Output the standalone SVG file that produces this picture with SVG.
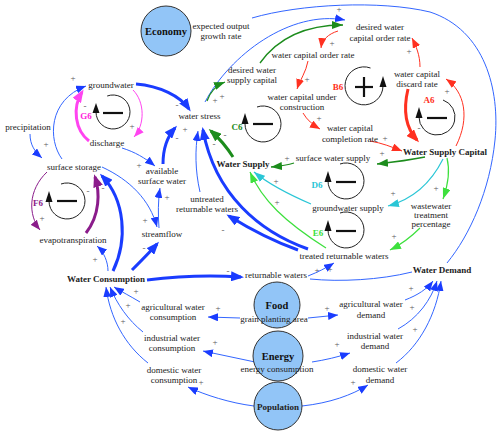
<svg xmlns="http://www.w3.org/2000/svg" width="500" height="435" viewBox="0 0 500 435">
<style>
text{font-family:"Liberation Serif","Times New Roman",serif;font-size:9px;fill:#222;text-anchor:middle}
.b{font-weight:bold}
.big{font-weight:bold;font-size:10.5px;fill:#111}
.pol{fill:#5a5a5a;font-size:9px}
.lbl{font-weight:bold;font-size:9px}
.c{fill:none}
.bt{stroke:#1a3cff;stroke-width:3}
.bn{stroke:#3366ff;stroke-width:1}
.rt{stroke:#ff3020;stroke-width:3}
.rn{stroke:#ff3020;stroke-width:1}
.gt{stroke:#1c8c1c;stroke-width:3}
.gn{stroke:#1c8c1c;stroke-width:1.3}
.ln{stroke:#3de03d;stroke-width:1.2}
.cn{stroke:#2ac6d6;stroke-width:1.2}
.mt{stroke:#ff44f0;stroke-width:3}
.mn{stroke:#ff44f0;stroke-width:1}
.pt{stroke:#8b1c8b;stroke-width:3}
.pn{stroke:#8b1c8b;stroke-width:1}
.circ{fill:#92c5f7;stroke:#333;stroke-width:1}
.loop{fill:none;stroke:#222;stroke-width:1}
.sgn{stroke:#111;stroke-width:2.2}
</style>
<defs>
<marker id="aBT" markerUnits="userSpaceOnUse" markerWidth="13" markerHeight="10" refX="10" refY="5" orient="auto"><path d="M0,0L13,5L0,10z" fill="#1a3cff"/></marker>
<marker id="aBN" markerUnits="userSpaceOnUse" markerWidth="10" markerHeight="8" refX="10" refY="4" orient="auto"><path d="M0,0L10,4L0,8z" fill="#1a3cff"/></marker>
<marker id="aRT" markerUnits="userSpaceOnUse" markerWidth="13" markerHeight="10" refX="10" refY="5" orient="auto"><path d="M0,0L13,5L0,10z" fill="#ff3020"/></marker>
<marker id="aRN" markerUnits="userSpaceOnUse" markerWidth="10" markerHeight="8" refX="10" refY="4" orient="auto"><path d="M0,0L10,4L0,8z" fill="#ff3020"/></marker>
<marker id="aGT" markerUnits="userSpaceOnUse" markerWidth="13" markerHeight="10" refX="10" refY="5" orient="auto"><path d="M0,0L13,5L0,10z" fill="#1c8c1c"/></marker>
<marker id="aGN" markerUnits="userSpaceOnUse" markerWidth="11" markerHeight="8" refX="11" refY="4" orient="auto"><path d="M0,0L11,4L0,8z" fill="#1c8c1c"/></marker>
<marker id="aLN" markerUnits="userSpaceOnUse" markerWidth="11" markerHeight="8" refX="11" refY="4" orient="auto"><path d="M0,0L11,4L0,8z" fill="#3de03d"/></marker>
<marker id="aCN" markerUnits="userSpaceOnUse" markerWidth="11" markerHeight="8" refX="11" refY="4" orient="auto"><path d="M0,0L11,4L0,8z" fill="#2ac6d6"/></marker>
<marker id="aMT" markerUnits="userSpaceOnUse" markerWidth="13" markerHeight="10" refX="10" refY="5" orient="auto"><path d="M0,0L13,5L0,10z" fill="#ff44f0"/></marker>
<marker id="aMN" markerUnits="userSpaceOnUse" markerWidth="10" markerHeight="8" refX="10" refY="4" orient="auto"><path d="M0,0L10,4L0,8z" fill="#ff44f0"/></marker>
<marker id="aPT" markerUnits="userSpaceOnUse" markerWidth="13" markerHeight="10" refX="10" refY="5" orient="auto"><path d="M0,0L13,5L0,10z" fill="#8b1c8b"/></marker>
<marker id="aPN" markerUnits="userSpaceOnUse" markerWidth="10" markerHeight="8" refX="10" refY="4" orient="auto"><path d="M0,0L10,4L0,8z" fill="#8b1c8b"/></marker>
</defs>
<rect width="500" height="435" fill="#fff"/>

<g id="connectors" class="c">
<!-- blue thick -->
<path class="c bt" d="M136,84 C160,86 180,96 189,109" marker-end="url(#aBT)"/>
<path class="c bt" d="M163,164 C163,148 167,137 175,128" marker-end="url(#aBT)"/>
<path class="c bt" d="M308,249 C260,232 215,195 203,130" marker-end="url(#aBT)"/>
<path class="c bt" d="M298,250 C270,240 245,226 229,216" marker-end="url(#aBT)"/>
<path class="c bt" d="M113,271 C128,240 125,200 102,176" marker-end="url(#aBT)"/>
<path class="c bt" d="M132,270 C142,260 150,252 157,244" marker-end="url(#aBT)"/>
<path class="c bt" d="M147,280 Q195,274 241,277" marker-end="url(#aBT)"/>
<!-- blue thin -->
<path class="c bn" d="M62,159 C48,140 48,100 86,86" marker-end="url(#aBN)"/>
<path class="c bn" d="M30,134 C30,145 35,152 42,158" marker-end="url(#aBN)"/>
<path class="c bn" d="M122,148 C135,152 145,158 155,166" marker-end="url(#aBN)"/>
<path class="c bn" d="M102,167 C130,180 150,200 157,227" marker-end="url(#aBN)"/>
<path class="c bn" d="M159,228 C158,215 158,200 160,188" marker-end="url(#aBN)"/>
<path class="c bn" d="M108,271 C108,262 104,252 97,246" marker-end="url(#aBN)"/>
<path class="c bn" d="M200,192 C195,170 195,150 198,131" marker-end="url(#aBN)"/>
<path class="c bn" d="M205,102 C230,55 290,10 345,20" marker-end="url(#aBN)"/>
<path class="c bn" d="M252,18 C300,4 380,0 430,12 C485,30 500,90 495,140 C490,190 470,235 447,263"/>
<path class="c bn" d="M412,272 C380,280 340,282 310,279"/>
<path class="c bn" d="M308,276 C318,272 326,268 334,263" marker-end="url(#aBN)"/>
<path class="c bn" d="M140,302 C130,296 122,292 114,287" marker-end="url(#aBN)"/>
<path class="c bn" d="M143,332 C128,320 117,304 110,287" marker-end="url(#aBN)"/>
<path class="c bn" d="M148,363 C125,345 110,318 106,287" marker-end="url(#aBN)"/>
<path class="c bn" d="M240,318 L208,317" marker-end="url(#aBN)"/>
<path class="c bn" d="M308,318 C318,317 328,316 338,315" marker-end="url(#aBN)"/>
<path class="c bn" d="M255,362 C238,358 220,355 203,351" marker-end="url(#aBN)"/>
<path class="c bn" d="M312,362 C325,360 338,357 350,353" marker-end="url(#aBN)"/>
<path class="c bn" d="M254,406 C230,403 205,395 188,387" marker-end="url(#aBN)"/>
<path class="c bn" d="M302,406 C330,403 352,395 368,385" marker-end="url(#aBN)"/>
<path class="c bn" d="M405,300 C418,295 427,289 433,281" marker-end="url(#aBN)"/>
<path class="c bn" d="M398,329 C418,318 431,300 437,281" marker-end="url(#aBN)"/>
<path class="c bn" d="M396,363 C420,345 436,315 441,281" marker-end="url(#aBN)"/>
<!-- green -->
<path class="c gn" d="M207,101 C210,92 215,86 225,82" marker-end="url(#aGN)"/>
<path class="c gn" d="M260,63 C280,35 310,25 343,25" marker-end="url(#aGN)"/>
<path class="c gt" d="M233,157 C226,146 219,138 211,131" marker-end="url(#aGT)"/>
<path class="c gn" d="M425,157 C410,160 395,162 377,164" marker-end="url(#aGN)"/>
<path class="c gn" d="M294,163 C288,165 282,166 271,167" marker-end="url(#aGN)"/>
<!-- red -->
<path class="c rn" d="M338,31 C328,34 322,40 321,48" marker-end="url(#aRN)"/>
<path class="c rn" d="M308,61 C306,72 300,80 297,89" marker-end="url(#aRN)"/>
<path class="c rn" d="M303,113 C307,120 313,125 320,129" marker-end="url(#aRN)"/>
<path class="c rn" d="M370,141 C382,143 392,147 402,151" marker-end="url(#aRN)"/>
<path class="c rt" d="M408,89 C403,110 406,128 417,140" marker-end="url(#aRT)"/>
<path class="c rn" d="M456,146 C470,118 465,92 446,79" marker-end="url(#aRN)"/>
<path class="c rn" d="M420,67 C420,55 416,46 412,38" marker-end="url(#aRN)"/>
<!-- cyan -->
<path class="c cn" d="M443,159 C430,185 410,200 388,206" marker-end="url(#aCN)"/>
<path class="c cn" d="M311,204 C290,195 270,185 254,172" marker-end="url(#aCN)"/>
<!-- lime -->
<path class="c ln" d="M447,158 C450,170 448,185 443,199" marker-end="url(#aLN)"/>
<path class="c ln" d="M420,228 C410,238 400,245 390,250" marker-end="url(#aLN)"/>
<path class="c ln" d="M326,248 C285,222 262,200 250,172" marker-end="url(#aLN)"/>
<!-- magenta -->
<path class="c mn" d="M133,90 C145,102 145,125 134,137" marker-end="url(#aMN)"/>
<path class="c mt" d="M89,141 C75,130 72,108 82,92" marker-end="url(#aMT)"/>
<!-- purple -->
<path class="c pn" d="M47,172 C28,190 28,215 40,230" marker-end="url(#aPN)"/>
<path class="c pt" d="M86,233 C100,215 100,192 95,177" marker-end="url(#aPT)"/>
</g>

<g id="polarities">
<text class="pol" x="73" y="81">+</text>
<text class="pol" x="85" y="109">-</text>
<text class="pol" x="132" y="129">+</text>
<text class="pol" x="46" y="147">+</text>
<text class="pol" x="139" y="168">+</text>
<text class="pol" x="177" y="108">-</text>
<text class="pol" x="185" y="132">+</text>
<text class="pol" x="177" y="141">-</text>
<text class="pol" x="215" y="103">+</text>
<text class="pol" x="222" y="99">+</text>
<text class="pol" x="214" y="147">-</text>
<text class="pol" x="225" y="138">-</text>
<text class="pol" x="167" y="200">+</text>
<text class="pol" x="145" y="223">+</text>
<text class="pol" x="144" y="251">-</text>
<text class="pol" x="95" y="262">+</text>
<text class="pol" x="42" y="221">+</text>
<text class="pol" x="103" y="191">-</text>
<text class="pol" x="88" y="194">-</text>
<text class="pol" x="223" y="233">-</text>
<text class="pol" x="228" y="274">-</text>
<text class="pol" x="317" y="273">+</text>
<text class="pol" x="330" y="272">+</text>
<text class="pol" x="276" y="184">+</text>
<text class="pol" x="277" y="205">+</text>
<text class="pol" x="287" y="161">+</text>
<text class="pol" x="382" y="156">+</text>
<text class="pol" x="385" y="141">+</text>
<text class="pol" x="393" y="196">+</text>
<text class="pol" x="436" y="191">+</text>
<text class="pol" x="394" y="239">+</text>
<text class="pol" x="307" y="82">+</text>
<text class="pol" x="319" y="121">+</text>
<text class="pol" x="339" y="12">+</text>
<text class="pol" x="332" y="46">+</text>
<text class="pol" x="409" y="54">+</text>
<text class="pol" x="447" y="94">+</text>
<text class="pol" x="419" y="131">-</text>
<text class="pol" x="136" y="294">+</text>
<text class="pol" x="128" y="308">+</text>
<text class="pol" x="123" y="324">+</text>
<text class="pol" x="218" y="311">+</text>
<text class="pol" x="215" y="345">+</text>
<text class="pol" x="201" y="385">+</text>
<text class="pol" x="327" y="311">+</text>
<text class="pol" x="337" y="347">+</text>
<text class="pol" x="353" y="385">+</text>
<text class="pol" x="411" y="291">+</text>
<text class="pol" x="412" y="310">+</text>
<text class="pol" x="415" y="332">+</text>
</g>

<g id="loop-G6">
<path class="loop" d="M107.2,96 A17,17 0 1 1 96,112"/>
<polygon points="92.5,113 99.5,113 96,103" fill="#111"/>
<line class="sgn" x1="103" y1="113" x2="123" y2="113"/>
<text class="lbl" x="86" y="119" style="fill:#ff22dd">G6</text>
</g>
<g id="loop-F6">
<path class="loop" d="M61,184 A18,18 0 1 1 49,201"/>
<polygon points="45.5,202 52.5,202 49,191" fill="#111"/>
<line class="sgn" x1="57" y1="201" x2="77" y2="201"/>
<text class="lbl" x="38" y="206" style="fill:#8b1c8b">F6</text>
</g>
<g id="loop-C6">
<path class="loop" d="M257,107 A18,18 0 1 1 245,124"/>
<polygon points="241.5,124 248.5,124 245,113" fill="#111"/>
<line class="sgn" x1="253" y1="124" x2="273" y2="124"/>
<text class="lbl" x="237" y="130" style="fill:#1c8c1c">C6</text>
</g>
<g id="loop-B6">
<path class="loop" d="M370.5,68 A19,19 0 1 0 383,86"/>
<polygon points="379.5,87 386.5,87 383,76" fill="#111"/>
<line class="sgn" x1="355" y1="87" x2="373" y2="87"/>
<line class="sgn" x1="364" y1="77" x2="364" y2="97"/>
<text class="lbl" x="338" y="90" style="fill:#ff3020">B6</text>
</g>
<g id="loop-A6">
<path class="loop" d="M443,100 A18,18 0 1 1 419,117"/>
<polygon points="415.5,118 422.5,118 419,107" fill="#111"/>
<line class="sgn" x1="427" y1="118" x2="447" y2="118"/>
<text class="lbl" x="429" y="103" style="fill:#ff3020">A6</text>
</g>
<g id="loop-D6">
<path class="loop" d="M340,164 A18,18 0 1 1 328,181"/>
<polygon points="324.5,182 331.5,182 328,171" fill="#111"/>
<line class="sgn" x1="336" y1="182" x2="356" y2="182"/>
<text class="lbl" x="317" y="188" style="fill:#2ac6d6">D6</text>
</g>
<g id="loop-E6">
<path class="loop" d="M340,213 A18,18 0 1 1 328,230"/>
<polygon points="324.5,231 331.5,231 328,220" fill="#111"/>
<line class="sgn" x1="336" y1="231" x2="356" y2="231"/>
<text class="lbl" x="318" y="236" style="fill:#3de03d">E6</text>
</g>

<g id="economy"><circle class="circ" cx="166" cy="31" r="25"/><text class="big" x="166" y="35">Economy</text></g>
<g id="expected-output-growth-rate"><text x="221" y="29">expected output</text><text x="221" y="39">growth rate</text></g>
<g id="desired-water-capital-order-rate"><text x="380" y="30">desired water</text><text x="380" y="41">capital order rate</text></g>
<g id="water-capital-order-rate"><text x="313" y="58">water capital order rate</text></g>
<g id="desired-water-supply-capital"><text x="252" y="73">desired water</text><text x="252" y="83">supply capital</text></g>
<g id="water-capital-under-construction"><text x="302" y="100">water capital under</text><text x="302" y="110">construction</text></g>
<g id="water-capital-completion-rate"><text x="350" y="131">water capital</text><text x="350" y="142">completion rate</text></g>
<g id="water-capital-discard-rate"><text x="417" y="77">water capital</text><text x="417" y="87">discard rate</text></g>
<g id="groundwater"><text x="111" y="88">groundwater</text></g>
<g id="discharge"><text x="107" y="146">discharge</text></g>
<g id="precipitation"><text x="28" y="130">precipitation</text></g>
<g id="water-stress"><text x="199.5" y="119">water stress</text></g>
<g id="available-surface-water"><text x="162" y="174">available</text><text x="162" y="184">surface water</text></g>
<g id="surface-storage"><text x="74" y="170">surface storage</text></g>
<g id="evapotranspiration"><text x="73" y="243">evapotranspiration</text></g>
<g id="streamflow"><text x="162" y="237">streamflow</text></g>
<g id="untreated-returnable-waters"><text x="207" y="202">untreated</text><text x="207" y="212">returnable waters</text></g>
<g id="water-supply"><text class="b" x="243" y="167">Water Supply</text></g>
<g id="surface-water-supply"><text x="333" y="161">surface water supply</text></g>
<g id="water-supply-capital"><text class="b" x="445" y="155">Water Supply Capital</text></g>
<g id="groundwater-supply"><text x="348" y="211">groundwater supply</text></g>
<g id="wastewater-treatment-percentage"><text x="431" y="209">wastewater</text><text x="431" y="218">treatment</text><text x="431" y="227">percentage</text></g>
<g id="treated-returnable-waters"><text x="344" y="259">treated returnable waters</text></g>
<g id="returnable-waters"><text x="276" y="278">returnable waters</text></g>
<g id="water-consumption"><text class="b" x="106" y="282">Water Consumption</text></g>
<g id="water-demand"><text class="b" x="442" y="273">Water Demand</text></g>
<g id="agricultural-water-consumption"><text x="173" y="310">agricultural water</text><text x="173" y="320">consumption</text></g>
<g id="industrial-water-consumption"><text x="172" y="341">industrial water</text><text x="172" y="351">consumption</text></g>
<g id="domestic-water-consumption"><text x="174" y="373">domestic water</text><text x="174" y="383">consumption</text></g>
<g id="food"><circle class="circ" cx="277" cy="305" r="23"/><text class="big" x="277" y="309">Food</text><text x="274" y="322">grain planting area</text></g>
<g id="energy"><circle class="circ" cx="278" cy="356" r="25"/><text class="big" x="278" y="360">Energy</text><text x="277" y="372">energy consumption</text></g>
<g id="population"><circle class="circ" cx="278" cy="406" r="24"/><text class="b" x="278" y="410">Population</text></g>
<g id="agricultural-water-demand"><text x="371" y="307">agricultural water</text><text x="371" y="318">demand</text></g>
<g id="industrial-water-demand"><text x="375" y="339">industrial water</text><text x="375" y="349">demand</text></g>
<g id="domestic-water-demand"><text x="380" y="372">domestic water</text><text x="380" y="383">demand</text></g>
</svg>
